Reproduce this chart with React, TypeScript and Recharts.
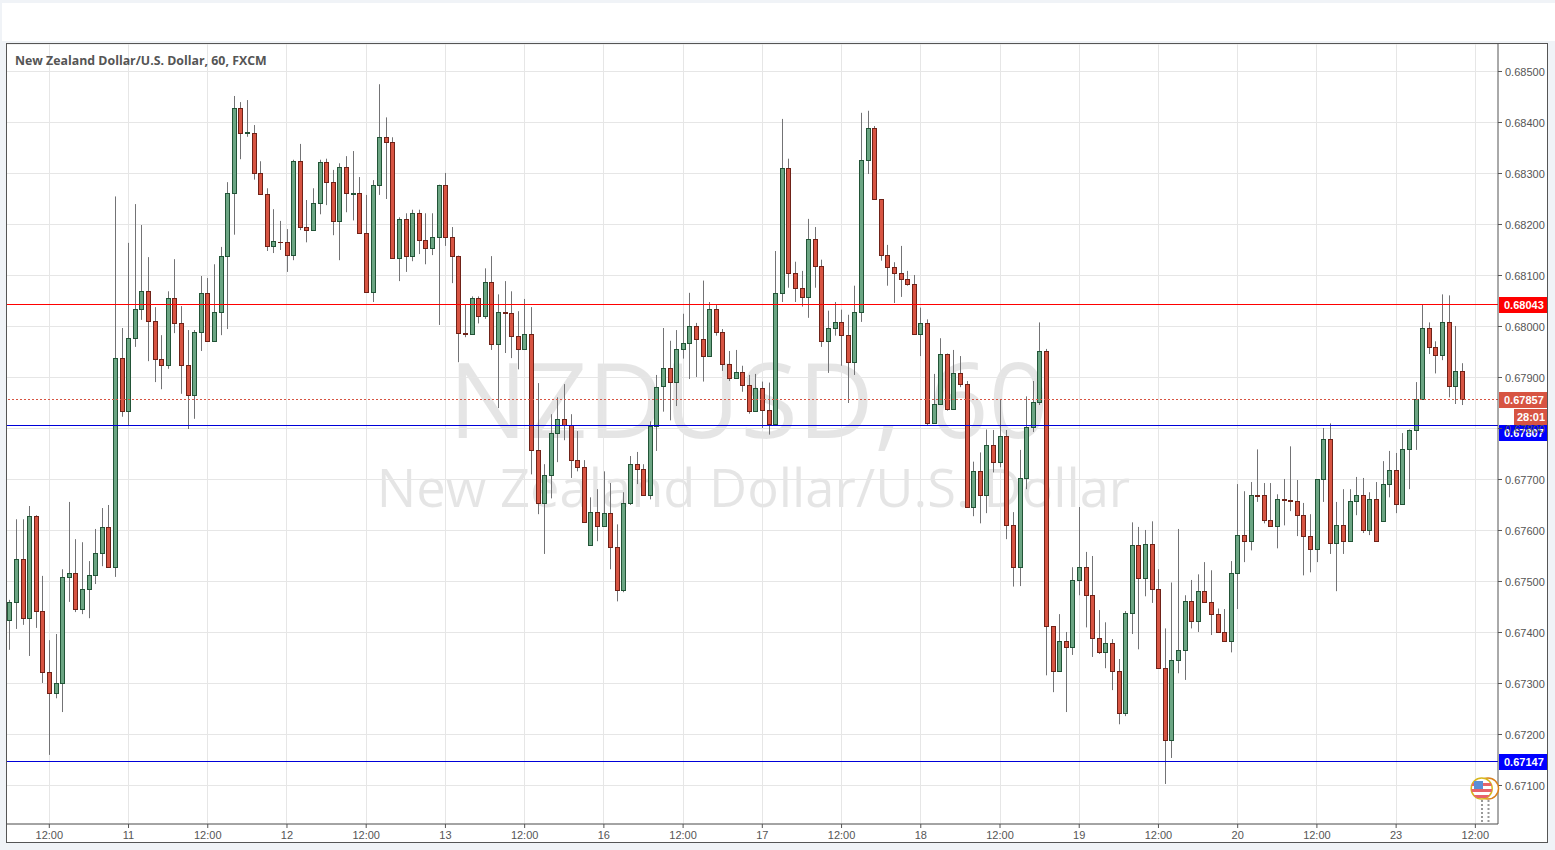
import React from "react";
import { ComposedChart, Bar, XAxis, YAxis, CartesianGrid, ReferenceLine } from "recharts";

// All prices are in points (price x 100000)
const opens = [
  67424,67459,67544,67428,67628,67442,67322,67281,67301,67508,
  67516,67446,67485,67512,67555,67606,67528,67939,67835,67978,
  68035,68069,68010,67937,67924,68055,68006,67924,67866,67990,
  68065,67971,68029,68139,68261,68429,68380,68380,68300,68259,
  68157,68166,68165,68141,68325,68196,68190,68243,68322,68284,
  68206,68312,68260,68261,68184,68067,68278,68371,68361,68135,
  68210,68139,68222,68169,68153,68175,68278,68176,68139,67988,
  67986,68055,68020,68088,67965,68029,68027,67982,67955,67986,
  67757,67653,67708,67792,67818,67806,67739,67724,67571,67637,
  67608,67635,67567,67484,67653,67731,67720,67669,67804,67883,
  67918,67892,67956,67967,68001,67975,67942,68034,67989,67926,
  67899,67910,67885,67834,67879,67836,67808,68065,68310,68105,
  68075,68058,68171,68118,67971,67997,68008,67983,67930,68028,
  68326,68389,68250,68140,68116,68105,68093,68083,67985,68006,
  67810,67849,67947,67839,67908,67888,67647,67716,67669,67767,
  67735,67786,67610,67529,67702,67802,67851,67951,67412,67325,
  67384,67371,67502,67529,67473,67390,67361,67380,67325,67243,
  67439,67571,67506,67573,67486,67331,67190,67347,67365,67461,
  67422,67482,67459,67437,67400,67384,67516,67592,67580,67669,
  67669,67620,67608,67661,67659,67657,67631,67590,67563,67700,
  67780,67576,67610,67580,67657,67669,67600,67661,67618,67692,
  67718,67651,67759,67798,67857,67998,67959,67945,68008,67884,67912,
];
const closes = [
  67459,67544,67428,67628,67442,67322,67281,67301,67508,67516,
  67446,67485,67512,67555,67606,67528,67939,67835,67978,68035,
  68069,68010,67937,67924,68055,68006,67924,67866,67990,68065,
  67971,68029,68139,68261,68429,68380,68381,68300,68259,68157,
  68167,68165,68141,68325,68196,68190,68243,68322,68284,68206,
  68312,68261,68261,68184,68067,68278,68371,68361,68135,68210,
  68139,68222,68169,68153,68175,68278,68176,68139,67988,67986,
  68055,68020,68088,67965,68029,68027,67982,67955,67986,67757,
  67653,67708,67792,67818,67806,67739,67724,67616,67637,67608,
  67635,67567,67484,67653,67731,67720,67669,67804,67882,67918,
  67892,67956,67967,68001,67975,67942,68034,67989,67926,67899,
  67910,67885,67834,67879,67836,67808,68065,68310,68105,68075,
  68058,68171,68118,67971,67997,68008,67983,67930,68028,68326,
  68389,68250,68140,68116,68105,68093,68083,67985,68007,67810,
  67849,67947,67839,67908,67888,67647,67716,67669,67767,67735,
  67786,67610,67529,67702,67802,67851,67951,67412,67325,67384,
  67371,67502,67529,67473,67390,67361,67380,67325,67243,67439,
  67571,67506,67573,67486,67331,67190,67347,67365,67461,67422,
  67482,67459,67437,67400,67384,67516,67592,67580,67669,67668,
  67620,67608,67661,67659,67657,67631,67590,67563,67700,67780,
  67576,67610,67580,67657,67669,67600,67661,67580,67692,67718,
  67651,67759,67798,67857,67998,67959,67945,68008,67884,67912,67857,
];
const highs = [
  67464,67622,67622,67648,67630,67511,67385,67397,67524,67656,
  67583,67577,67540,67603,67644,67650,68255,67997,68164,68240,
  68199,68136,68038,67983,68069,68132,68040,67993,67993,68099,
  68095,68122,68156,68283,68452,68440,68444,68395,68324,68271,
  68230,68207,68191,68327,68358,68248,68271,68327,68329,68307,
  68320,68334,68344,68293,68258,68287,68475,68410,68371,68214,
  68222,68229,68229,68222,68222,68278,68301,68195,68139,68043,
  68059,68059,68114,68138,68063,68089,68069,68030,68054,68038,
  67889,67730,67828,67861,67887,67828,67795,67738,67665,67681,
  67716,67693,67612,67675,67746,67754,67730,67814,67905,67997,
  67972,67993,68025,68066,68007,68090,68048,68042,67995,67952,
  67954,67923,67905,67907,67892,67890,68148,68407,68329,68127,
  68109,68211,68195,68131,68031,68048,68033,68023,68080,68419,
  68423,68393,68250,68160,68126,68158,68109,68101,68037,68014,
  67907,67977,67947,67954,67942,67893,67735,67753,67798,67797,
  67857,67797,67636,67758,67863,67893,68008,67956,67412,67436,
  67401,67528,67646,67558,67550,67444,67420,67387,67348,67442,
  67616,67607,67601,67618,67524,67408,67498,67603,67473,67503,
  67514,67538,67522,67447,67446,67540,67691,67677,67695,67759,
  67693,67693,67671,67701,67765,67699,67654,67632,67700,67801,
  67810,67656,67681,67681,67705,67703,67675,67695,67736,67756,
  67752,67791,67798,67891,68043,68008,67971,68063,68061,68001,67928,
];
const lows = [
  67366,67407,67415,67354,67409,67301,67160,67271,67244,67460,
  67440,67436,67428,67495,67530,67528,67509,67823,67806,67960,
  68013,67932,67891,67877,67917,67987,67868,67799,67819,67952,
  67971,67971,67983,67995,68180,68328,68372,68288,68259,68148,
  68144,68150,68107,68130,68189,68165,68190,68220,68238,68179,
  68130,68224,68208,68184,68067,68048,68258,68250,68135,68089,
  68107,68128,68142,68122,68140,68003,68158,68085,67930,67979,
  67986,68006,68015,67954,67840,67948,67938,67916,67955,67710,
  67632,67554,67663,67734,67777,67703,67716,67616,67571,67579,
  67608,67524,67461,67479,67650,67691,67669,67661,67756,67833,
  67816,67844,67937,67897,67901,67892,67942,67982,67913,67893,
  67899,67872,67829,67834,67801,67788,67807,68048,68076,68048,
  68039,68017,68076,67960,67909,67982,67923,67850,67905,68009,
  68299,68250,68129,68080,68046,68058,68080,67985,67942,67806,
  67810,67849,67835,67839,67881,67647,67628,67614,67634,67714,
  67724,67583,67490,67491,67681,67793,67846,67316,67283,67323,
  67244,67356,67473,67410,67352,67358,67330,67287,67220,67236,
  67397,67367,67471,67458,67331,67103,67154,67320,67307,67408,
  67401,67459,67395,67400,67384,67361,67446,67538,67561,67656,
  67614,67608,67565,67610,67638,67589,67512,67518,67538,67656,
  67554,67481,67554,67580,67630,67595,67591,67580,67618,67665,
  67634,67651,67681,67758,67857,67946,67908,67934,67861,67848,67846,
];
const timeTicks = [6,18,30,42,54,66,78,90,102,114,126,138,150,162,174,186,198,210,222];
const timeLabels = ["12:00","11","12:00","12","12:00","13","12:00","16","12:00","17","12:00","18","12:00","19","12:00","20","12:00","23","12:00"];
const priceTicks = [67100,67200,67300,67400,67500,67600,67700,67800,67900,68000,68100,68200,68300,68400,68500];
const resistanceLevel = 68043;
const supportLevel = 67807;
const lowerSupportLevel = 67147;
const lastPrice = 67857;
const countdown = "28:01";
const X_DOMAIN = [-0.407, 225.43];

const candles = opens.map((open, i) => ({ i, open, close: closes[i], high: highs[i], low: lows[i], range: [lows[i], highs[i]] }));
const fmt = (v: number) => (v / 100000).toFixed(5);
const AXIS_FONT = "'Liberation Sans', Arial, sans-serif";
const UI_FONT = "'Open Sans', sans-serif";

const Candle = (props: any) => {
  const { x, y, width, height, payload } = props;
  const k = height / (payload.high - payload.low);
  const up = payload.close >= payload.open;
  const col = Math.floor(x + width / 2);
  const top = Math.round(y + (payload.high - Math.max(payload.open, payload.close)) * k);
  const bottom = Math.round(y + (payload.high - Math.min(payload.open, payload.close)) * k);
  return (
    <g>
      <line x1={col + 0.5} x2={col + 0.5} y1={y} y2={y + height} stroke="#737375" strokeWidth={1} />
      <rect x={col - 1.5} y={top + 0.5} width={4} height={Math.max(bottom - top, 0.01)}
        fill={up ? "#6ba583" : "#d75442"} stroke={up ? "#225437" : "#6f2218"} strokeWidth={1} />
    </g>
  );
};

const snap = (y: number) => Math.floor(y + 0.1) + 0.5;
const levelShape = (stroke: string, dash?: string) => (p: any) => (
  <line x1={p.x1} x2={p.x2} y1={snap(p.y1)} y2={snap(p.y2)} stroke={stroke} strokeWidth={1} strokeDasharray={dash} />
);

const PriceTag = ({ viewBox, text, fill, offset = 0 }: any) => {
  const right = viewBox.x + viewBox.width;
  const cy = Math.round(viewBox.y) + offset;
  return (
    <g>
      <rect x={right + 1} y={cy - 8} width={49} height={16} fill={fill} />
      <text x={right + 6} y={cy + 4} fill="#fff" fontFamily={AXIS_FONT} fontSize={11} fontWeight={700}>{text}</text>
    </g>
  );
};

const LastTag = ({ viewBox, text, fill }: any) => {
  const right = viewBox.x + viewBox.width;
  const cy = Math.round(viewBox.y) + 1;
  return (
    <g>
      <rect x={right + 1} y={cy - 8} width={49} height={16} fill={fill} />
      <text x={right + 6} y={cy + 4} fill="#fff" fontFamily={AXIS_FONT} fontSize={11} fontWeight={700}>{text}</text>
      <rect x={right + 16} y={cy + 9} width={34} height={16} fill={fill} />
      <text x={right + 33} y={cy + 21} fill="#fff" textAnchor="middle" fontFamily={AXIS_FONT} fontSize={11} fontWeight={700}>{countdown}</text>
    </g>
  );
};

const box = (l: number, t: number, w: number, h: number, extra: React.CSSProperties = {}): React.CSSProperties => ({
  position: "absolute", left: l, top: t, width: w, height: h, ...extra,
});

const verticalGrid = ({ offset }: any) =>
  timeTicks.map((t) => Math.floor(offset.left + ((t - X_DOMAIN[0]) / (X_DOMAIN[1] - X_DOMAIN[0])) * offset.width) + 0.5);

export default function App() {
  return (
    <div style={{ position: "fixed", left: 0, top: 0, width: 1555, height: 850, background: "#f0f3f7", overflow: "hidden" }}>
      <div style={box(2, 3, 1553, 38, { background: "#fff" })} />
      <div style={box(6, 43, 1542, 800, { background: "#fff" })} />
      <div style={box(3, 345, 1491, 130, { textAlign: "center", fontFamily: UI_FONT, fontSize: 105, lineHeight: "105px", color: "rgba(0,0,0,0.1)", whiteSpace: "nowrap" })}>NZDUSD, 60</div>
      <div style={box(8, 452, 1491, 70, { textAlign: "center", fontFamily: UI_FONT, fontSize: 52.5, lineHeight: "70px", color: "rgba(0,0,0,0.1)", whiteSpace: "nowrap" })}>New Zealand Dollar/U.S. Dollar</div>
      <div style={{ position: "absolute", left: 0, top: 0 }}>
        <ComposedChart width={1555} height={850} data={candles} margin={{ top: 44, left: 7, right: 7, bottom: 7 }}>
          <CartesianGrid stroke="#e6e6e6" strokeWidth={1} verticalCoordinatesGenerator={verticalGrid} />
          <XAxis dataKey="i" type="number" domain={X_DOMAIN} ticks={timeTicks} interval={0} height={19}
            tickFormatter={(v: number) => timeLabels[timeTicks.indexOf(v)]}
            tick={{ fontFamily: AXIS_FONT, fontSize: 11, fill: "#555", dy: 1 }} tickSize={4} tickMargin={2}
            stroke="#555" allowDataOverflow />
          <YAxis orientation="right" width={50} domain={[67024.5, 68553.9]} ticks={priceTicks} interval={0}
            tickFormatter={fmt} tick={{ fontFamily: AXIS_FONT, fontSize: 11, fill: "#555", dy: 1 }} tickSize={4} tickMargin={3}
            stroke="#555" allowDataOverflow />
          <ReferenceLine y={resistanceLevel} shape={levelShape("#ff0000")}
            label={(p: any) => <PriceTag viewBox={p.viewBox} text={fmt(resistanceLevel)} fill="#ff0000" />} />
          <ReferenceLine y={supportLevel} shape={levelShape("#0000d8")}
            label={(p: any) => <PriceTag viewBox={p.viewBox} text={fmt(supportLevel)} fill="#0000ff" offset={8} />} />
          <ReferenceLine y={lowerSupportLevel} shape={levelShape("#0000d8")}
            label={(p: any) => <PriceTag viewBox={p.viewBox} text={fmt(lowerSupportLevel)} fill="#0000ff" />} />
          <ReferenceLine y={lastPrice} shape={levelShape("#d75442", "2 2")}
            label={(p: any) => <LastTag viewBox={p.viewBox} text={fmt(lastPrice)} fill="#d75442" />} />
          <Bar dataKey="range" barSize={5} shape={Candle} isAnimationActive={false} />
        </ComposedChart>
      </div>
      <div style={box(15, 52, 400, 18, { fontFamily: UI_FONT, fontSize: 12.35, fontWeight: 700, lineHeight: "18px", color: "#555", whiteSpace: "nowrap" })}>New Zealand Dollar/U.S. Dollar, 60, FXCM</div>
      <svg style={box(1465, 770, 50, 60)} width={50} height={60}>
        <defs>
          <clipPath id="flagA"><circle cx={16.7} cy={18.5} r={10.5} /></clipPath>
        </defs>
        <line x1={17} x2={17} y1={30} y2={54} stroke="#999" strokeWidth={2} strokeDasharray="2 2" />
        <line x1={23.5} x2={23.5} y1={30} y2={54} stroke="#999" strokeWidth={2} strokeDasharray="2 2" />
        <circle cx={23} cy={18.5} r={10.5} fill="#fff" stroke="#d9821e" strokeWidth={1.5} />
        <circle cx={16.7} cy={18.5} r={10.5} fill="#fff" stroke="#d8b71c" strokeWidth={1.5} />
        <g clipPath="url(#flagA)">
          <rect x={6} y={13} width={22} height={3} fill="#e8636a" />
          <rect x={6} y={19} width={22} height={3} fill="#e8636a" />
          <rect x={6} y={25} width={22} height={3} fill="#e8636a" />
          <rect x={9} y={11} width={9} height={8} fill="#5b8fd6" />
        </g>
      </svg>
      <div style={box(6, 43, 1542, 800, { boxSizing: "border-box", border: "1px solid #555", pointerEvents: "none" })} />
    </div>
  );
}
